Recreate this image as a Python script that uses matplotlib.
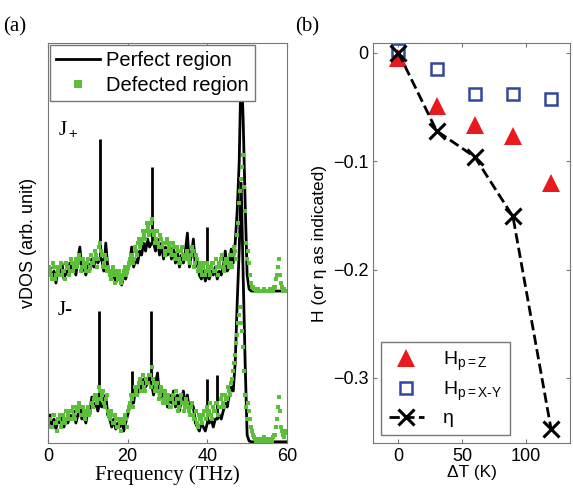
import numpy as np
import matplotlib
matplotlib.use('Agg')
import matplotlib.pyplot as plt

plt.rcParams.update({
    'font.family': ['Liberation Sans', 'DejaVu Sans'],
    'mathtext.fontset': 'custom',
    'mathtext.rm': 'Liberation Sans',
    'mathtext.it': 'Liberation Sans:italic',
    'axes.edgecolor': '#777777',
    'xtick.color': '#777777',
    'ytick.color': '#777777',
    'xtick.labelcolor': 'black',
    'ytick.labelcolor': 'black',
})

# ---- panel (a): vDOS, frequency grid 0..60 THz every 0.5 THz ----
freq = np.arange(0, 60.01, 0.5)
freq2 = np.arange(0.25, 60, 0.5)   # second set of defected-region samples

jp_perfect = [
    42, 44, 41, 43, 40, 44, 42, 45, 41, 43,
    42, 45, 43, 44, 42, 46, 49, 43, 44, 42,
    45, 43, 46, 44, 47, 45, 46, 46, 43, 50,
    44, 42, 41, 43, 40, 42, 41, 39.5, 42, 41,
    43, 45, 49, 44, 46, 45, 48, 47, 50, 48,
    51, 49, 50, 50, 48, 51, 47, 50, 46, 49,
    47, 50, 46, 49, 45, 48, 44, 47, 45, 48,
    52.5, 44, 47, 51, 44, 46, 42, 41, 43, 40.5,
    42, 41, 43, 42, 44, 41, 43, 42, 44, 48,
    43, 44, 48.5, 45, 50, 58, 70, 95, 81, 60,
    42, 38.5, 38, 38, 38, 38, 38, 38, 38, 38,
    38, 38, 38, 38, 38, 38, 38, 38, 38, 38,
    38,
]
jm_perfect = [
    5, 7, 4, 6, 3.5, 6, 5, 7, 4, 6,
    5, 7, 6, 8, 5, 7, 9.5, 6, 7, 5,
    8, 7, 11.5, 9, 10, 8, 10, 9, 11, 12,
    7, 6, 4, 6, 3.5, 5, 4, 6, 3, 5,
    7, 9, 10, 10, 14, 12, 15, 13, 16, 14,
    15, 17, 15, 12, 15, 17.5, 11, 14, 10, 13,
    9, 12, 10, 13, 9, 12, 8, 11, 13, 9,
    12, 8, 10, 9, 5, 4, 3, 5, 4, 3,
    5, 5, 6, 4, 6, 6, 7, 6, 8, 10,
    9, 12, 14, 13, 20, 35, 48, 65, 42, 20,
    2, 0.5, 0.3, 0.3, 0.3, 0.3, 0.3, 0.3, 0.3, 0.3,
    0.3, 0.3, 0.3, 0.3, 0.3, 0.3, 0.3, 0.3, 0.3, 0.3,
    0.3,
]

# sharp modes of the perfect region (frequency, foot, top)
jp_spike_f = [13.0, 26.0, 40.0]
jp_spike_lo = [46, 50, 42]
jp_spike_hi = [76, 69, 54]
jm_spike_f = [12.9, 21.0, 25.9, 39.9, 42.4]
jm_spike_lo = [10, 10, 15, 5, 6]
jm_spike_hi = [33, 18, 33, 16, 17]

jp_defect = [
    42, 43, 41, 44, 42, 43, 44, 42, 43, 45,
    44, 43, 45, 44, 46, 45, 46, 44, 45, 43,
    46, 44, 45, 46, 47, 46, 50, 47, 45, 46,
    44, 42, 43, 42, 43, 41, 42, 41, 43, 42,
    44, 46, 47, 46, 48, 50, 49, 51, 52, 53,
    54, 53, 56, 52, 51, 50, 52, 49, 50, 48,
    51, 49, 48, 50, 47, 49, 46, 48, 47, 46,
    48, 46, 47, 48, 45, 46, 44, 43, 44, 42,
    45, 43, 44, 45, 43, 44, 45, 46, 44, 45,
    46, 44, 45, 47, 48, 52, 60, 66, 72, 58,
    46, 45, 40, 39, 38.5, 38, 38, 38, 38, 38,
    38, 38, 38, 38, 39, 42, 46, 40, 38, 38,
    38,
]
jp_defect2 = [
    44, 42, 45, 41, 44, 42, 45, 43, 41, 44,
    42, 46, 43, 45, 44, 47, 43, 46, 44, 45,
    43, 47, 45, 48, 44, 49, 48, 44, 47, 43,
    43, 41, 44, 40, 42, 43, 40, 42, 44, 43,
    45, 47, 45, 49, 47, 51, 50, 53, 51, 55,
    52, 55, 53, 50, 53, 49, 51, 50, 47, 50,
    48, 50, 47, 49, 46, 48, 45, 49, 46, 47,
    47, 45, 49, 44, 47, 43, 45, 42, 45, 43,
    44, 42, 45, 43, 46, 42, 44, 47, 43, 46,
    45, 47, 44, 49, 46, 55, 63, 69, 64, 50,
    48, 42, 39, 38.5, 38, 38.5, 38, 38, 38.5, 38,
    38, 38.5, 38, 39, 41, 44, 42, 39, 38.5, 38,
]
jm_defect = [
    5, 6, 4, 7, 5, 6, 7, 5, 6, 8,
    7, 6, 8, 7, 9, 8, 9, 7, 8, 7,
    9, 8, 10, 11, 12, 11, 13, 12, 10, 11,
    8, 6, 7, 5, 6, 4, 5, 6, 5, 6,
    8, 10, 11, 12, 13, 14, 16, 15, 14, 16,
    15, 17, 19, 15, 14, 13, 12, 13, 11, 12,
    10, 11, 9, 12, 10, 11, 9, 12, 10, 9,
    10, 8, 9, 7, 6, 5, 7, 6, 7, 8,
    9, 8, 7, 9, 8, 10, 9, 11, 10, 12,
    11, 13, 15, 18, 22, 27, 32, 30, 24, 12,
    6, 8, 4, 2, 1, 0.5, 0.5, 1, 1, 0.5,
    1, 0.5, 1, 1.5, 2, 6, 11.5, 4, 2, 3,
    3,
]
jm_defect2 = [
    6, 4, 7, 5, 3, 6, 4, 7, 5, 6,
    8, 6, 9, 6, 8, 10, 7, 9, 6, 8,
    7, 10, 9, 12, 10, 14, 11, 13, 9, 12,
    7, 8, 5, 7, 4, 6, 3, 5, 7, 4,
    9, 12, 9, 14, 12, 15, 13, 17, 13, 15,
    17, 14, 16, 13, 15, 11, 14, 10, 13, 11,
    12, 9, 11, 10, 13, 8, 11, 10, 8, 11,
    9, 7, 10, 6, 8, 4, 6, 5, 8, 6,
    7, 10, 6, 8, 10, 7, 9, 12, 9, 11,
    14, 12, 16, 20, 25, 30, 34, 28, 18, 9,
    10, 6, 3, 1.5, 0.5, 1, 0.5, 0.5, 1.5, 1,
    0.5, 1, 0.5, 2, 4, 9, 8, 3, 1.5, 2.5,
]

# ---- panel (b): H and eta vs temperature difference ----
dT = [0, 30, 60, 90, 120]
H_z = [-0.005, -0.049, -0.067, -0.077, -0.120]
H_xy = [0.003, -0.015, -0.038, -0.038, -0.043]
eta = [0.0, -0.072, -0.096, -0.151, -0.347]

fig = plt.figure(figsize=(5.73, 4.95), dpi=100)
axa = fig.add_axes([0.0838, 0.105, 0.417, 0.808])
axb = fig.add_axes([0.651, 0.105, 0.344, 0.808])

green = '#5cbf3a'
axa.plot(freq, jp_perfect, color='k', lw=2.0, label='Perfect region')
axa.plot(freq, jm_perfect, color='k', lw=2.0)
axa.vlines(jp_spike_f, jp_spike_lo, jp_spike_hi, color='k', lw=2.0)
axa.vlines(jm_spike_f, jm_spike_lo, jm_spike_hi, color='k', lw=2.0)
axa.plot(freq, jp_defect, 's', color=green, ms=3.0, mew=0, label='Defected region')
axa.plot(freq2, jp_defect2, 's', color=green, ms=3.0, mew=0)
axa.plot(freq, jm_defect, 's', color=green, ms=3.0, mew=0)
axa.plot(freq2, jm_defect2, 's', color=green, ms=3.0, mew=0)
axa.set_xlim(0, 60)
axa.set_ylim(0, 100)
axa.set_xticks([0, 20, 40, 60])
axa.set_yticks([])
axa.tick_params(axis='x', direction='in', top=True, labelsize=13, length=3)
axa.set_xlabel('Frequency (THz)', family=['Liberation Serif'], fontsize=15, labelpad=0)
axa.set_ylabel('vDOS (arb. unit)', fontsize=13, labelpad=8)
axa.text(2.5, 77, 'J$_+$', family=['Liberation Serif'], fontsize=15)
axa.text(2.5, 32, 'J-', family=['Liberation Serif'], fontsize=15)
leg = axa.legend(loc='upper left', fontsize=14.5, handlelength=2.2, borderaxespad=0.1,
                 handletextpad=0.3, labelspacing=0.3, fancybox=False, framealpha=1,
                 borderpad=0.3, markerscale=2.0)
leg.get_frame().set_edgecolor('#777777')
fig.text(0.005, 0.965, '(a)', family=['Liberation Serif'], fontsize=15, va='top')

axb.plot(dT, H_z, '^', color='#e8191f', ms=13, mew=0, label='H$_{\\mathrm{p=Z}}$')
axb.plot(dT, H_xy, 's', mfc='none', mec='#3346a0', ms=9, mew=1.8, label='H$_{\\mathrm{p=X\\text{-}Y}}$')
axb.plot(dT, eta, 'x--', color='k', ms=11, mew=2.2, lw=2, label='η')
axb.set_xlim(-20, 135)
axb.set_ylim(-0.36, 0.009)
axb.set_xticks([0, 50, 100])
axb.set_yticks([0, -0.1, -0.2, -0.3])
axb.set_yticklabels(['0', '\u22120.1', '\u22120.2', '\u22120.3'])
axb.tick_params(direction='in', top=True, right=True, labelsize=13, length=3)
axb.set_xlabel('ΔT (K)', fontsize=12.5, labelpad=0)
axb.set_ylabel('H (or η as indicated)', fontsize=12.5, labelpad=4)
leg = axb.legend(loc='lower left', fontsize=14, handlelength=1.8, fancybox=False,
                 framealpha=1, borderaxespad=0.4, labelspacing=0.35, handletextpad=1.0)
leg.get_frame().set_edgecolor('#777777')
fig.text(0.515, 0.965, '(b)', family=['Liberation Serif'], fontsize=15, va='top')

fig.savefig('out.png', dpi=100)
